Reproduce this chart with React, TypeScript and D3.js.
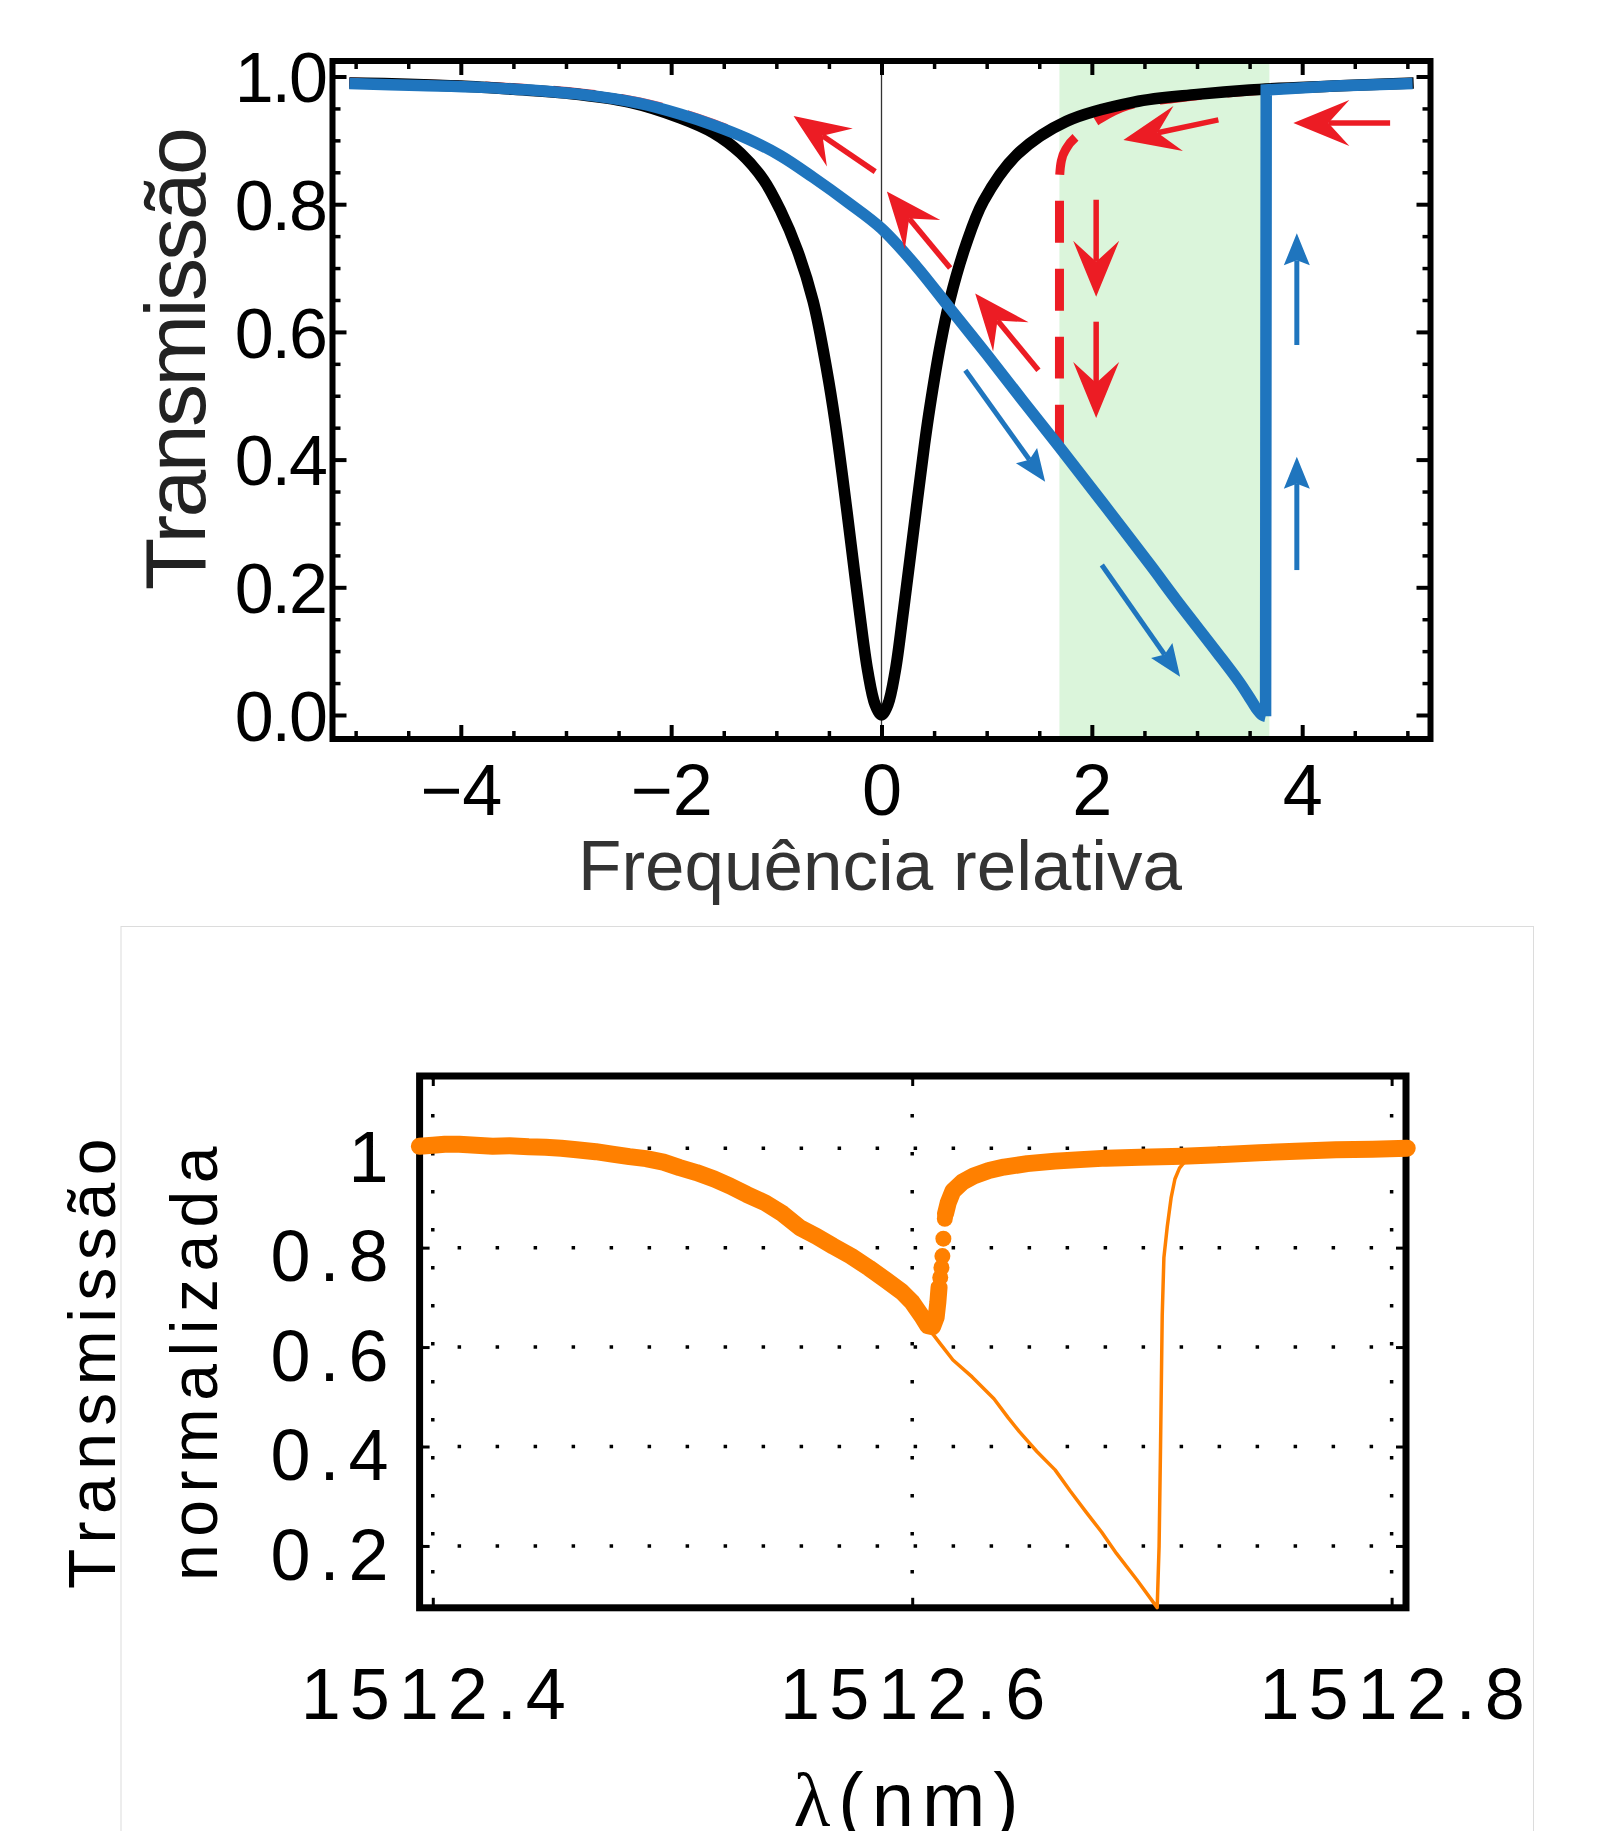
import React, { useEffect, useRef } from 'react';
import * as d3 from 'd3';

type Pt = [number, number];

// ---------- top panel: transmissão vs frequência relativa ----------
const blackCurve: Pt[] = [
  [-5.06, 0.99], [-4.5, 0.988], [-4.0, 0.985], [-3.5, 0.98], [-3.0, 0.974], [-2.4, 0.96],
  [-1.91, 0.935], [-1.6, 0.912], [-1.34, 0.88], [-1.12, 0.838], [-0.96, 0.79], [-0.8, 0.728],
  [-0.65, 0.648], [-0.52, 0.54], [-0.44, 0.458], [-0.36, 0.36], [-0.29, 0.268], [-0.21, 0.163],
  [-0.13, 0.068], [-0.06, 0.016], [0, 0.0], [0.06, 0.016], [0.13, 0.068], [0.21, 0.165],
  [0.34, 0.335], [0.41, 0.425], [0.46, 0.482], [0.56, 0.58], [0.65, 0.65], [0.8, 0.735],
  [0.97, 0.805], [1.29, 0.878], [1.76, 0.93], [2.4, 0.96], [3.0, 0.972], [3.5, 0.979],
  [4.3, 0.985], [5.06, 0.99],
];

const blueCurve: Pt[] = [
  [-5.06, 0.989], [-4.4, 0.986], [-3.8, 0.983], [-2.86, 0.972], [-2.3, 0.958], [-1.91, 0.941],
  [-1.6, 0.924], [-1.28, 0.903], [-0.96, 0.876], [-0.65, 0.842], [-0.32, 0.803], [0, 0.762],
  [0.33, 0.703], [0.65, 0.637], [1.0, 0.565], [1.34, 0.493], [1.7, 0.418], [2.1, 0.333],
  [2.56, 0.234], [2.8, 0.181], [3.19, 0.098], [3.4, 0.052], [3.5, 0.027], [3.57, 0.009],
  [3.62, 0.0], [3.652, -0.002], [3.658, 0.979], [4.3, 0.985], [5.05, 0.989],
];

// red dashed upper branch (starts on the blue curve, goes up and along the black one)
const redUpper: Pt[] = [
  [1.692, 0.42], [1.6925, 0.84], [1.71, 0.868], [1.76, 0.888], [1.86, 0.907], [2.08, 0.934],
  [2.33, 0.954], [2.8, 0.966], [3.2, 0.973], [3.66, 0.979], [5.05, 0.989],
];

const shadedBand = [1.692, 3.688];

// [x1, y1, x2(tip), y2(tip)]
const redArrows = [
  [-0.06, 0.851, -0.836, 0.938],
  [0.653, 0.7, 0.051, 0.82],
  [1.492, 0.54, 0.891, 0.66],
  [3.203, 0.932, 2.3, 0.9006],
  [4.836, 0.927, 3.916, 0.927],
  [2.041, 0.807, 2.041, 0.655],
  [2.041, 0.616, 2.041, 0.465],
];
const blueArrows = [
  [0.797, 0.54, 1.556, 0.3654],
  [2.095, 0.235, 2.839, 0.06],
  [3.949, 0.5795, 3.949, 0.7544],
  [3.949, 0.227, 3.949, 0.4045],
];

const topXTicks = [-4, -2, 0, 2, 4];
const topYTicks = [0, 0.2, 0.4, 0.6, 0.8, 1.0];
const topYTickLabels = ['0.0', '0.2', '0.4', '0.6', '0.8', '1.0'];

// ---------- bottom panel: measured normalized transmission ----------
const thickSweepA: Pt[] = [
  [1512.3944, 1.004], [1512.4, 1.006], [1512.405, 1.008], [1512.411, 1.008], [1512.418, 1.006],
  [1512.425, 1.004], [1512.432, 1.005], [1512.44, 1.003], [1512.447, 1.002], [1512.4536, 1.0],
  [1512.46, 0.997], [1512.468, 0.993], [1512.4748, 0.988], [1512.482, 0.983], [1512.489, 0.979],
  [1512.4962, 0.972], [1512.503, 0.961], [1512.51, 0.951], [1512.5174, 0.938], [1512.524, 0.924],
  [1512.531, 0.907], [1512.5387, 0.89], [1512.546, 0.868], [1512.5532, 0.84], [1512.56, 0.823],
  [1512.567, 0.803], [1512.5745, 0.783], [1512.582, 0.759], [1512.589, 0.735], [1512.5957, 0.711],
  [1512.6, 0.69], [1512.6043, 0.66], [1512.6065, 0.643], [1512.6085, 0.641], [1512.61, 0.66],
  [1512.6107, 0.69], [1512.6112, 0.72],
];
const jumpDots: Pt[] = [
  [1512.6117, 0.74], [1512.6122, 0.76], [1512.6126, 0.783], [1512.613, 0.818], [1512.6136, 0.858],
];
const thickSweepB: Pt[] = [
  [1512.6139, 0.868], [1512.615, 0.89], [1512.617, 0.914], [1512.621, 0.932], [1512.6256, 0.944],
  [1512.632, 0.955], [1512.6383, 0.962], [1512.648, 0.969], [1512.6596, 0.974], [1512.67, 0.977],
  [1512.6809, 0.98], [1512.695, 0.982], [1512.7128, 0.984], [1512.728, 0.987], [1512.7448, 0.991],
  [1512.76, 0.994], [1512.7767, 0.997], [1512.792, 0.998], [1512.8065, 1.0],
];
const thinSweep: Pt[] = [
  [1512.59, 0.725], [1512.6, 0.675], [1512.6032, 0.645], [1512.608, 0.63], [1512.612, 0.605],
  [1512.617, 0.574], [1512.625, 0.54], [1512.6341, 0.496], [1512.64, 0.458], [1512.6447, 0.43],
  [1512.652, 0.39], [1512.6596, 0.353], [1512.666, 0.31], [1512.6724, 0.269], [1512.679, 0.228],
  [1512.6852, 0.185], [1512.6937, 0.132], [1512.7022, 0.076], [1512.703, 0.2], [1512.7036, 0.4],
  [1512.7043, 0.663], [1512.705, 0.78], [1512.7064, 0.842], [1512.708, 0.9], [1512.7096, 0.938],
  [1512.7115, 0.96], [1512.7139, 0.974], [1512.716, 0.98],
];

const botXTicks = [1512.4, 1512.6, 1512.8];
const botXTickLabels = ['1512.4', '1512.6', '1512.8'];
const botYTicks = [0.2, 0.4, 0.6, 0.8, 1];
const botYTickLabels = ['0.2', '0.4', '0.6', '0.8', '1'];

const FONT = '"Liberation Sans", Arial, Helvetica, sans-serif';
const BLUE = '#1f75be';
const RED = '#ec1c24';
const GREEN = '#dbf5db';
const ORANGE = '#ff8000';

function arrow(g, x1, y1, x2, y2, color, L, W, N, sw) {
  const dx = x2 - x1, dy = y2 - y1;
  const len = Math.hypot(dx, dy);
  const ux = dx / len, uy = dy / len, nx = -uy, ny = ux;
  const bx = x2 - L * ux, by = y2 - L * uy;
  const sx = x2 - (L - N) * ux, sy = y2 - (L - N) * uy;
  g.append('line').attr('x1', x1).attr('y1', y1).attr('x2', sx).attr('y2', sy)
    .attr('stroke', color).attr('stroke-width', sw);
  const p = d3.path();
  p.moveTo(x2, y2);
  p.lineTo(bx + W * nx, by + W * ny);
  p.lineTo(sx, sy);
  p.lineTo(bx - W * nx, by - W * ny);
  p.closePath();
  g.append('path').attr('d', p.toString()).attr('fill', color);
}

function styleAxis(sel, w) {
  sel.select('.domain').remove();
  sel.selectAll('.tick line').attr('stroke', '#000').attr('stroke-width', w);
}

function drawTop(svg) {
  const x = d3.scaleLinear().domain([-5.22, 5.22]).range([332.5, 1430.5]);
  const y = d3.scaleLinear().domain([-0.0376, 1.0243]).range([739, 61]);
  const [yb, yt] = y.range();
  const [xl, xr] = x.range();
  const g = svg.append('g');

  g.append('rect')
    .attr('x', x(shadedBand[0])).attr('y', yt)
    .attr('width', x(shadedBand[1]) - x(shadedBand[0])).attr('height', yb - yt)
    .attr('fill', GREEN);

  g.append('line').attr('x1', x(0)).attr('x2', x(0)).attr('y1', yt).attr('y2', yb)
    .attr('stroke', '#333').attr('stroke-width', 1.3);

  const smooth = d3.line<Pt>().x(d => x(d[0])).y(d => y(d[1])).curve(d3.curveCatmullRom.alpha(0.5));
  const mono = d3.line<Pt>().x(d => x(d[0])).y(d => y(d[1])).curve(d3.curveMonotoneX);
  const straight = d3.line<Pt>().x(d => x(d[0])).y(d => y(d[1]));

  // backward sweep (red dashed) peeking out from under the blue lower branch
  g.append('path').attr('d', smooth(blueCurve.filter(d => d[0] <= -1.0)))
    .attr('fill', 'none').attr('stroke', RED).attr('stroke-width', 9)
    .attr('stroke-dasharray', '42 26').attr('stroke-opacity', 0.8)
    .attr('transform', 'translate(0,-1.5)');
  g.append('path').attr('d', mono(redUpper))
    .attr('fill', 'none').attr('stroke', RED).attr('stroke-width', 9)
    .attr('stroke-dasharray', '42 26');

  g.append('path').attr('d', smooth(blackCurve))
    .attr('fill', 'none').attr('stroke', '#000').attr('stroke-width', 11.5);

  const split = blueCurve.findIndex(d => d[0] >= 3.652);
  g.append('path').attr('d', smooth(blueCurve.slice(0, split + 1)))
    .attr('fill', 'none').attr('stroke', BLUE).attr('stroke-width', 11.5);
  g.append('path').attr('d', straight(blueCurve.slice(split)))
    .attr('fill', 'none').attr('stroke', BLUE).attr('stroke-width', 11.5)
    .attr('stroke-linejoin', 'miter');

  redArrows.forEach(a => arrow(g, x(a[0]), y(a[1]), x(a[2]), y(a[3]), RED, 56, 23, 21, 5.5));
  blueArrows.forEach(a => arrow(g, x(a[0]), y(a[1]), x(a[2]), y(a[3]), BLUE, 32, 13, 5, 5));

  g.append('rect').attr('x', xl).attr('y', yt).attr('width', xr - xl).attr('height', yb - yt)
    .attr('fill', 'none').attr('stroke', '#000').attr('stroke-width', 6);

  const fmtX = d => (d < 0 ? '\u2212' + Math.abs(d) : String(d));
  const minorX = x.ticks(20).filter(v => !topXTicks.includes(v));
  const minorY = y.ticks(20).filter(v => !topYTicks.some(t => Math.abs(t - v) < 1e-9));

  const bx = g.append('g').attr('transform', `translate(0,${yb})`)
    .call(d3.axisBottom(x).tickValues(topXTicks).tickSize(-14).tickPadding(25).tickFormat(fmtX));
  styleAxis(bx, 4);
  bx.attr('font-size', 72).attr('font-family', FONT);
  bx.selectAll('text').attr('fill', '#000');

  [[yb, 'b'], [yt, 't']].forEach(([pos, side]) => {
    const mk = side === 'b' ? d3.axisBottom(x) : d3.axisTop(x);
    const a = g.append('g').attr('transform', `translate(0,${pos})`)
      .call(mk.tickValues(minorX).tickSize(-8).tickFormat(() => ''));
    styleAxis(a, 3.5);
    if (side === 't') {
      const m = g.append('g').attr('transform', `translate(0,${pos})`)
        .call(d3.axisTop(x).tickValues(topXTicks).tickSize(-14).tickFormat(() => ''));
      styleAxis(m, 4);
    }
  });

  const ly = g.append('g').attr('transform', `translate(${xl},0)`)
    .call(d3.axisLeft(y).tickValues(topYTicks).tickSize(-14).tickPadding(6.5)
      .tickFormat((d, i) => topYTickLabels[i]));
  styleAxis(ly, 4);
  ly.attr('font-size', 70).attr('font-family', FONT);
  ly.selectAll('text').attr('fill', '#000').attr('dy', '0.36em').attr('letter-spacing', -2);

  [[xl, 'l'], [xr, 'r']].forEach(([pos, side]) => {
    const mk = side === 'l' ? d3.axisLeft(y) : d3.axisRight(y);
    const a = g.append('g').attr('transform', `translate(${pos},0)`)
      .call(mk.tickValues(minorY).tickSize(-8).tickFormat(() => ''));
    styleAxis(a, 3.5);
    if (side === 'r') {
      const m = g.append('g').attr('transform', `translate(${pos},0)`)
        .call(d3.axisRight(y).tickValues(topYTicks).tickSize(-14).tickFormat(() => ''));
      styleAxis(m, 4);
    }
  });

  g.append('text').attr('x', 880).attr('y', 890).attr('text-anchor', 'middle')
    .attr('font-family', FONT).attr('font-size', 71).attr('fill', '#333')
    .text('Frequência relativa');
  g.append('text').attr('transform', 'translate(205,360) rotate(-90)').attr('text-anchor', 'middle')
    .attr('font-family', FONT).attr('font-size', 86).attr('letter-spacing', -2.6).attr('fill', '#222')
    .text('Transmissão');
}

function drawBottom(svg) {
  const x = d3.scaleLinear().domain([1512.3945, 1512.806]).range([419.6, 1406]);
  const y = d3.scaleLinear().domain([0.0756, 1.1452]).range([1607.8, 1076]);
  const [yb, yt] = y.range();
  const [xl, xr] = x.range();
  const g = svg.append('g');

  g.append('rect').attr('x', 121).attr('y', 926.5).attr('width', 1412.5).attr('height', 1000)
    .attr('fill', 'none').attr('stroke', '#dcdcdc').attr('stroke-width', 1);

  // dotted grid
  g.selectAll('.hgrid').data(botYTicks).enter().append('line')
    .attr('x1', xl).attr('x2', xr).attr('y1', d => y(d)).attr('y2', d => y(d))
    .attr('stroke', '#000').attr('stroke-width', 3.5).attr('stroke-dasharray', '3.5 34.5');
  g.selectAll('.vgrid').data(botXTicks).enter().append('line')
    .attr('x1', d => x(d)).attr('x2', d => x(d)).attr('y1', yt).attr('y2', yb)
    .attr('stroke', '#000').attr('stroke-width', 3.5).attr('stroke-dasharray', '3.5 34.5');

  g.append('rect').attr('x', xl).attr('y', yt).attr('width', xr - xl).attr('height', yb - yt)
    .attr('fill', 'none').attr('stroke', '#000').attr('stroke-width', 7);

  const ax = g.append('g').attr('transform', `translate(0,${yb})`)
    .call(d3.axisBottom(x).tickValues(botXTicks).tickSize(-10).tickPadding(60)
      .tickFormat((d, i) => botXTickLabels[i]));
  styleAxis(ax, 3);
  ax.attr('font-size', 72).attr('font-family', FONT);
  ax.selectAll('text').attr('fill', '#000').attr('letter-spacing', 9).attr('dx', 4.5);

  const at = g.append('g').attr('transform', `translate(0,${yt})`)
    .call(d3.axisTop(x).tickValues(botXTicks).tickSize(-10).tickFormat(() => ''));
  styleAxis(at, 3);

  const al = g.append('g').attr('transform', `translate(${xl},0)`)
    .call(d3.axisLeft(y).tickValues(botYTicks).tickSize(-10).tickPadding(22)
      .tickFormat((d, i) => botYTickLabels[i]));
  styleAxis(al, 3);
  al.attr('font-size', 72).attr('font-family', FONT);
  al.selectAll('text').attr('fill', '#000').attr('letter-spacing', 9).attr('dy', '0.46em');

  const ar = g.append('g').attr('transform', `translate(${xr},0)`)
    .call(d3.axisRight(y).tickValues(botYTicks).tickSize(-10).tickFormat(() => ''));
  styleAxis(ar, 3);

  const line = d3.line<Pt>().x(d => x(d[0])).y(d => y(d[1]));

  g.append('path').attr('d', line(thinSweep)).attr('fill', 'none')
    .attr('stroke', ORANGE).attr('stroke-width', 3.5).attr('stroke-linejoin', 'round');
  [thickSweepA, thickSweepB].forEach(seg => {
    g.append('path').attr('d', line(seg)).attr('fill', 'none')
      .attr('stroke', ORANGE).attr('stroke-width', 17)
      .attr('stroke-linejoin', 'round').attr('stroke-linecap', 'round');
  });
  g.selectAll('.dot').data(jumpDots).enter().append('circle')
    .attr('cx', d => x(d[0])).attr('cy', d => y(d[1])).attr('r', 8).attr('fill', ORANGE);

  const ylab = g.append('text').attr('font-family', FONT).attr('font-size', 66)
    .attr('letter-spacing', 7.5).attr('fill', '#000').attr('text-anchor', 'middle');
  ylab.append('tspan').attr('x', 0).attr('y', 0).text('Transmissão');
  ylab.append('tspan').attr('x', 0).attr('y', 102).text('normalizada');
  ylab.attr('transform', 'translate(115,1360) rotate(-90)');

  const xlab = g.append('text').attr('x', 910).attr('y', 1826).attr('text-anchor', 'middle')
    .attr('font-family', FONT).attr('font-size', 76).attr('letter-spacing', 8).attr('fill', '#000');
  xlab.append('tspan').attr('font-family', '"Liberation Serif", "DejaVu Serif", serif').text('λ');
  xlab.append('tspan').text('(nm)');
}

export default function App() {
  const ref = useRef<SVGSVGElement>(null);

  useEffect(() => {
    if (!ref.current) return;
    const svg = d3.select(ref.current);
    svg.selectAll('*').remove();
    drawTop(svg);
    drawBottom(svg);
  }, []);

  return (
    <div style={{ position: 'absolute', left: 0, top: 0 }}>
      <svg ref={ref} width={1599} height={1831} style={{ display: 'block', background: '#fff' }} />
    </div>
  );
}
